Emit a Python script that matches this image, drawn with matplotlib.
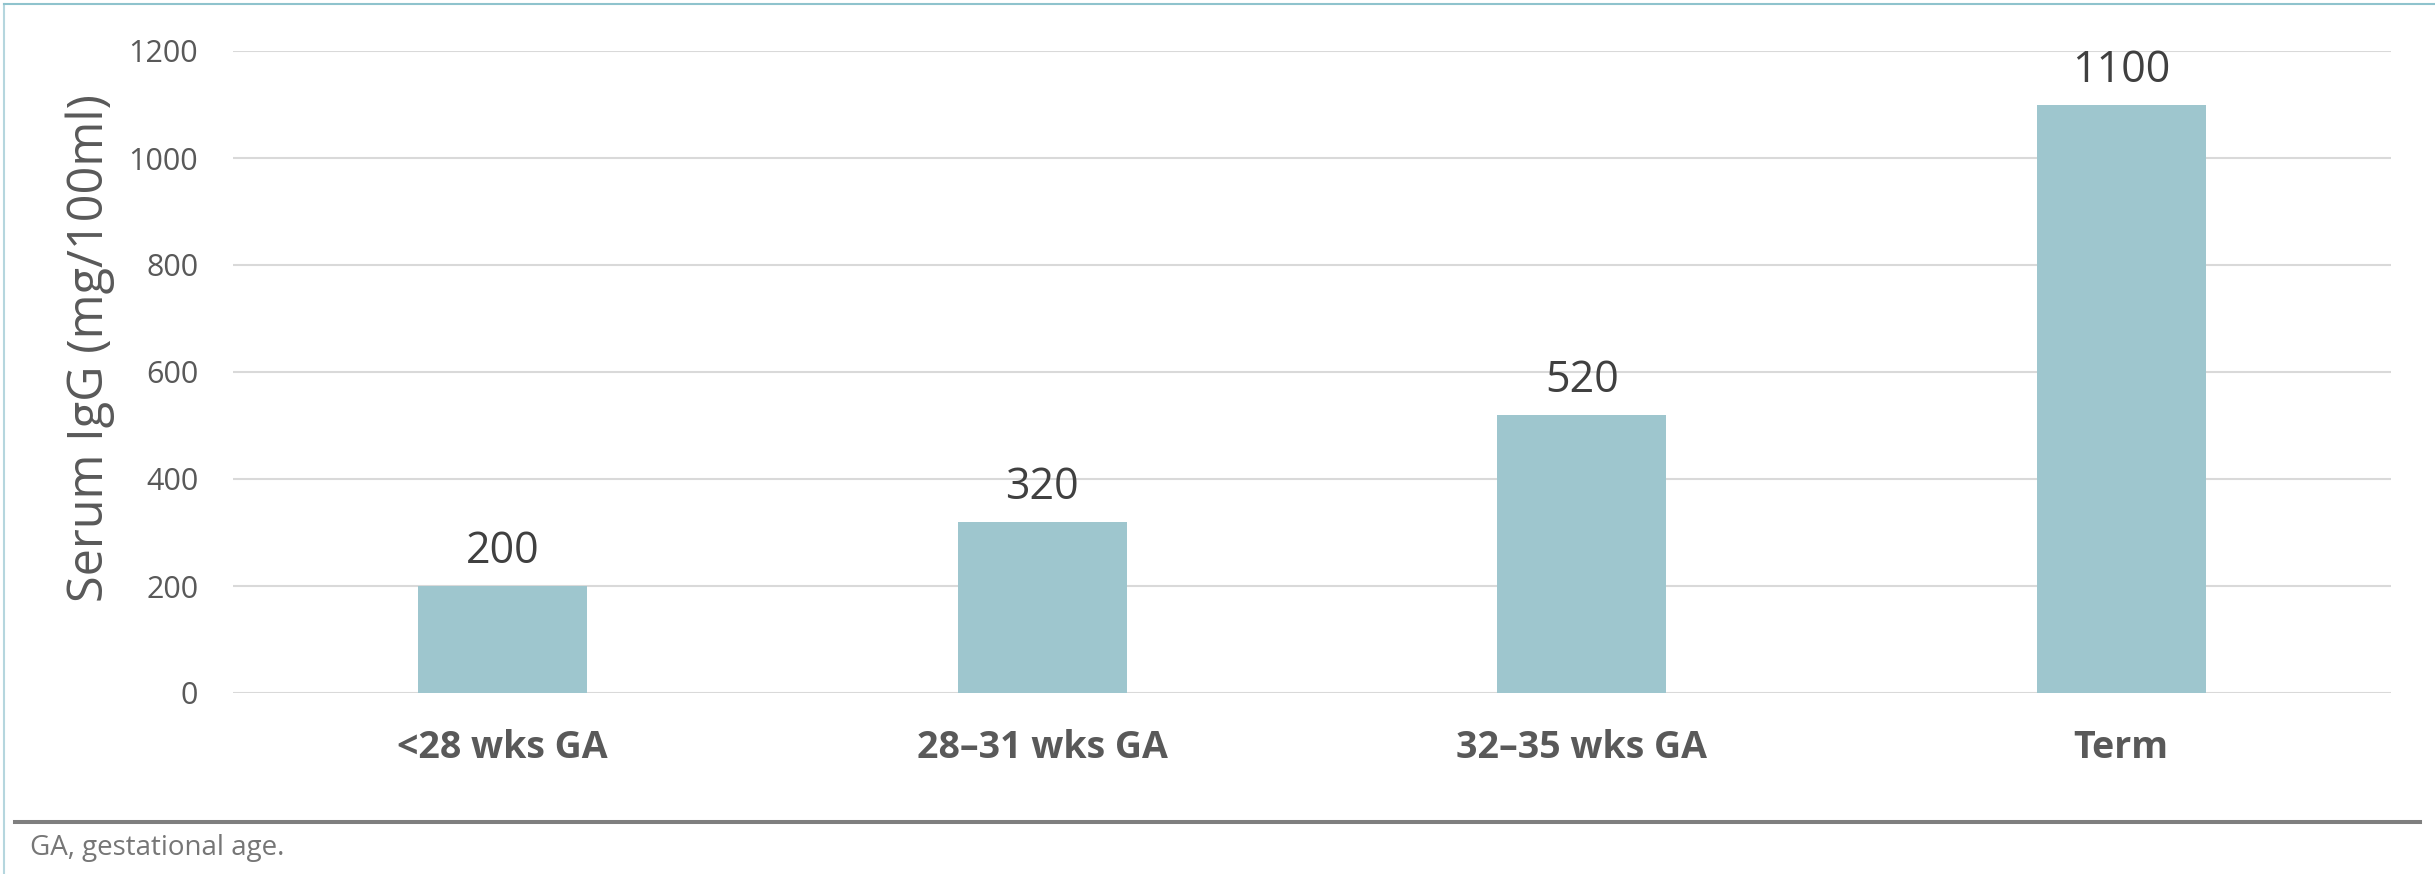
import matplotlib.pyplot as plt
from matplotlib.lines import Line2D

# Serum IgG by gestational age group
categories = ["<28 wks GA", "28\u201331 wks GA", "32\u201335 wks GA", "Term"]
igg_values = [200, 320, 520, 1100]
y_ticks = [0, 200, 400, 600, 800, 1000, 1200]

plt.rcParams['font.family'] = ['Open Sans', 'DejaVu Sans']

fig = plt.figure(figsize=(24.35, 8.74), dpi=100)
ax = fig.add_axes([233 / 2435, 1 - 693 / 874, (2391 - 233) / 2435, (693 - 51) / 874])

x = range(len(categories))
bars = ax.bar(x, igg_values, width=0.313, color='#9ec6ce', zorder=3)

# value labels above each bar
for xi, v in zip(x, igg_values):
    ax.annotate(f"{v}", (xi, v), xytext=(0, 16.5), textcoords='offset points',
                ha='center', va='baseline', fontsize=31, color='#404040')

ax.set_xlim(-0.5, len(categories) - 0.5)
ax.set_ylim(0, 1200)
ax.set_yticks(y_ticks)
ax.set_yticklabels([str(t) for t in y_ticks], fontsize=22, color='#595959')
ax.set_xticks(list(x))
ax.set_xticklabels(categories, fontsize=27, fontweight='bold', color='#595959')
ax.tick_params(axis='y', length=0, pad=25)
ax.tick_params(axis='x', length=0, pad=26)

ax.yaxis.grid(True, color='#d9d9d9', linewidth=1.5, zorder=0)
ax.set_axisbelow(True)
for s in ax.spines.values():
    s.set_visible(False)

fig.text(90 / 2435, 1 - 348 / 874, "Serum IgG (mg/100ml)", rotation=90,
         ha='center', va='center', fontsize=35, color='#595959')

# separator line and footnote
fig.add_artist(Line2D([15 / 2435, 2420 / 2435], [1 - 822 / 874, 1 - 822 / 874],
                      color='#7f7f7f', linewidth=2.9, transform=fig.transFigure))
fig.text(30 / 2435, 1 - 855 / 874, "GA, gestational age.", ha='left', va='baseline',
         fontsize=20, color='#767676')

# thin frame on left and top
fig.add_artist(Line2D([4 / 2435, 4 / 2435], [0, 1 - 4 / 874], color='#b5d6de',
                      linewidth=1.5, transform=fig.transFigure))
fig.add_artist(Line2D([4 / 2435, 1], [1 - 4 / 874, 1 - 4 / 874], color='#8fc3cd',
                      linewidth=1.5, transform=fig.transFigure))

fig.savefig('out.png', dpi=100)
